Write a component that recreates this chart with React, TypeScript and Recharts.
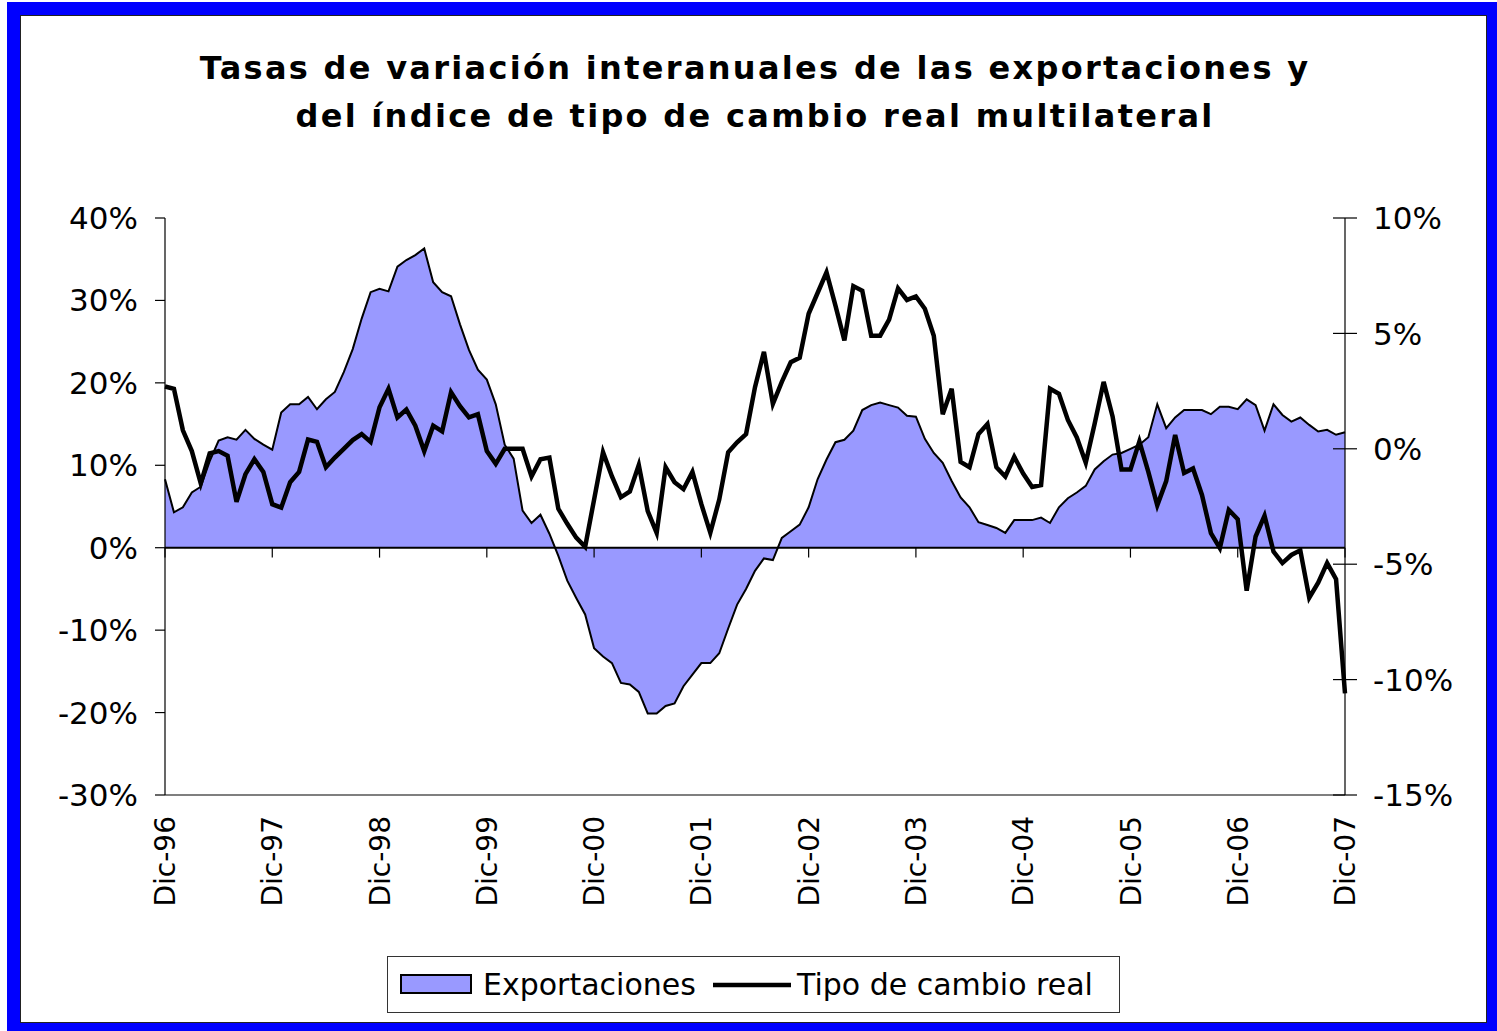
import React from "react";
import {
  Area,
  ComposedChart,
  Legend,
  Line,
  ReferenceLine,
  XAxis,
  YAxis,
} from "recharts";

const MESES = ["Dic", "Ene", "Feb", "Mar", "Abr", "May", "Jun", "Jul", "Ago", "Sep", "Oct", "Nov"];
const ANIOS = ["96", "97", "98", "99", "00", "01", "02", "03", "04", "05", "06", "07"];

const TICKS_X = [
  "Dic-96", "Dic-97", "Dic-98", "Dic-99", "Dic-00", "Dic-01",
  "Dic-02", "Dic-03", "Dic-04", "Dic-05", "Dic-06", "Dic-07",
];
const TICKS_IZQ = [-30, -20, -10, 0, 10, 20, 30, 40];
const TICKS_DER = [-15, -10, -5, 0, 5, 10];

// Exportaciones, % interanual (eje izquierdo), Dic-96 .. Dic-07
const EXPORTACIONES = [
  8.3, 4.3, 4.9, 6.7, 7.4, 10.5, 13.0, 13.4, 13.1, 14.3, 13.2, 12.5,
  11.9, 16.4, 17.4, 17.4, 18.3, 16.8, 18.0, 18.9, 21.3, 24.1, 27.8, 31.0,
  31.4, 31.1, 34.1, 34.9, 35.5, 36.3, 32.2, 31.0, 30.5, 27.1, 24.0, 21.6,
  20.4, 17.4, 12.5, 10.8, 4.5, 3.0, 4.0, 1.7, -1.0, -4.0, -6.1, -8.1,
  -12.2, -13.2, -14.0, -16.4, -16.6, -17.5, -20.1, -20.1, -19.2, -18.9, -16.8, -15.4,
  -14.0, -14.0, -12.8, -9.8, -6.9, -5.0, -2.8, -1.3, -1.5, 1.2, 2.0, 2.8,
  4.9, 8.3, 10.7, 12.8, 13.1, 14.2, 16.7, 17.3, 17.6, 17.3, 17.0, 16.0,
  15.9, 13.2, 11.5, 10.3, 8.1, 6.1, 4.9, 3.1, 2.75, 2.4, 1.8, 3.35,
  3.35, 3.35, 3.65, 3.0, 4.9, 6.0, 6.7, 7.5, 9.5, 10.5, 11.3, 11.5,
  12.0, 12.5, 13.4, 17.4, 14.5, 15.8, 16.7, 16.7, 16.7, 16.2, 17.1, 17.1,
  16.8, 18.0, 17.3, 14.2, 17.4, 16.1, 15.3, 15.8, 14.9, 14.1, 14.3, 13.7,
  14.0,
];

// Tipo de cambio real multilateral, % interanual (eje derecho)
const TIPO_CAMBIO = [
  2.7, 2.6, 0.8, -0.1, -1.5, -0.2, -0.1, -0.3, -2.3, -1.1, -0.45, -1.0,
  -2.4, -2.55, -1.45, -1.0, 0.4, 0.3, -0.8, -0.38, 0.0, 0.38, 0.64, 0.3,
  1.8, 2.6, 1.36, 1.7, 1.0, -0.1, 1.0, 0.75, 2.45, 1.85, 1.36, 1.5,
  -0.1, -0.65, 0.0, 0.0, 0.0, -1.2, -0.45, -0.38, -2.6, -3.25, -3.85, -4.25,
  -2.2, -0.15, -1.2, -2.1, -1.85, -0.7, -2.7, -3.64, -0.8, -1.45, -1.75, -1.0,
  -2.4, -3.64, -2.2, -0.15, 0.28, 0.64, 2.67, 4.2, 1.95, 2.9, 3.75, 3.95,
  5.85, 6.75, 7.65, 6.2, 4.7, 7.05, 6.85, 4.9, 4.9, 5.6, 6.95, 6.45,
  6.6, 6.07, 4.9, 1.5, 2.6, -0.57, -0.8, 0.64, 1.07, -0.8, -1.2, -0.35,
  -1.07, -1.65, -1.57, 2.6, 2.38, 1.25, 0.49, -0.6, 1.1, 2.9, 1.4, -0.9,
  -0.9, 0.32, -1.0, -2.45, -1.4, 0.6, -1.05, -0.85, -2.0, -3.65, -4.3, -2.65,
  -3.05, -6.15, -3.8, -2.9, -4.45, -4.95, -4.6, -4.4, -6.45, -5.8, -4.95, -5.65,
  -10.6,
];

const data = EXPORTACIONES.map((exp, i) => ({
  mes: `${MESES[i % 12]}-${ANIOS[Math.ceil(i / 12)]}`,
  exportaciones: exp,
  tipoCambio: TIPO_CAMBIO[i],
}));

const FUENTE = "'DejaVu Sans', sans-serif";
const RELLENO = "#9999FF";

function TickX({ x, y, payload }: any) {
  return (
    <text
      transform={`translate(${x},${y}) rotate(-90)`}
      x={-21}
      y={0}
      dy="0.36em"
      textAnchor="end"
      fontFamily={FUENTE}
      fontSize={28}
      fill="#000"
    >
      {payload.value}
    </text>
  );
}

function TickDer({ x, y, payload }: any) {
  return (
    <g>
      <line x1={x - 12} x2={x + 12} y1={y} y2={y} stroke="#000" strokeWidth={1.2} />
      <text
        x={x + 28}
        y={y}
        dy="0.36em"
        textAnchor="start"
        fontFamily={FUENTE}
        fontSize={31}
        fill="#000"
      >
        {`${payload.value}%`}
      </text>
    </g>
  );
}

function Leyenda({ payload }: any) {
  const items = payload ?? [];
  const area = items.find((it: any) => it.type !== "line");
  const linea = items.find((it: any) => it.type === "line");
  const texto = { position: "absolute" as const, top: 10, lineHeight: "36px", whiteSpace: "nowrap" as const };
  return (
    <div
      style={{
        position: "relative",
        width: 733,
        height: 57,
        boxSizing: "border-box",
        border: "1.5px solid #333",
        background: "#fff",
        fontFamily: FUENTE,
        fontSize: 30,
        color: "#000",
      }}
    >
      {area && (
        <>
          <svg style={{ position: "absolute", left: 12, top: 17 }} width={72} height={20}>
            <rect x={1} y={1} width={70} height={18} fill={RELLENO} stroke="#000" strokeWidth={2} />
          </svg>
          <span style={{ ...texto, left: 95 }}>{area.value}</span>
        </>
      )}
      {linea && (
        <>
          <svg style={{ position: "absolute", left: 325, top: 23 }} width={78} height={10}>
            <line x1={0} x2={78} y1={5} y2={5} stroke="#000" strokeWidth={4.5} />
          </svg>
          <span style={{ ...texto, left: 409 }}>{linea.value}</span>
        </>
      )}
    </div>
  );
}

export default function App() {
  return (
    <div style={{ position: "absolute", left: 0, top: 0, width: 1497, height: 1031, background: "#fff", overflow: "hidden" }}>
      <div style={{ position: "absolute", left: 7, top: 2, right: 0, bottom: 0, background: "#0000FF" }} />
      <div
        style={{
          position: "absolute",
          left: 20,
          top: 15,
          width: 1467,
          height: 1008,
          boxSizing: "border-box",
          background: "#fff",
          border: "1.5px solid #222",
        }}
      />
      <div
        style={{
          position: "absolute",
          left: 20,
          top: 44,
          width: 1470,
          textAlign: "center",
          fontFamily: "'DejaVu Sans', sans-serif",
          fontWeight: "bold",
          fontSize: 32,
          letterSpacing: "2.3px",
          lineHeight: "48px",
          color: "#000",
        }}
      >
        Tasas de variación interanuales de las exportaciones y
        <br />
        del índice de tipo de cambio real multilateral
      </div>
      <div style={{ position: "absolute", left: 0, top: 0 }}>
        <ComposedChart
          width={1497}
          height={1031}
          data={data}
          margin={{ top: 218, right: 0, left: 0, bottom: 0 }}
        >
          <XAxis
            dataKey="mes"
            scale="point"
            ticks={TICKS_X}
            interval={0}
            height={179}
            tickLine={false}
            tickSize={0}
            tickMargin={0}
            axisLine={{ stroke: "#000", strokeWidth: 1.2 }}
            tick={<TickX />}
          />
          <YAxis
            yAxisId="izq"
            orientation="left"
            width={165}
            domain={[-30, 40]}
            ticks={TICKS_IZQ}
            interval={0}
            tickFormatter={(v: number) => `${v}%`}
            tickSize={10}
            tickMargin={17}
            axisLine={{ stroke: "#000", strokeWidth: 1.2 }}
            tickLine={{ stroke: "#000", strokeWidth: 1.2 }}
            tick={{ fill: "#000", fontSize: 31, fontFamily: FUENTE }}
          />
          <YAxis
            yAxisId="der"
            orientation="right"
            width={152}
            domain={[-15, 10]}
            ticks={TICKS_DER}
            interval={0}
            tickSize={0}
            tickMargin={0}
            tickLine={false}
            axisLine={{ stroke: "#000", strokeWidth: 1.2 }}
            tick={<TickDer />}
          />
          <Area
            yAxisId="izq"
            type="linear"
            dataKey="exportaciones"
            name="Exportaciones"
            fill={RELLENO}
            fillOpacity={1}
            stroke="#000"
            strokeWidth={2}
            baseValue={0}
            isAnimationActive={false}
            legendType="rect"
          />
          <ReferenceLine yAxisId="izq" y={0} stroke="#000" strokeWidth={2} />
          {TICKS_X.map((t) => (
            <ReferenceLine
              key={t}
              yAxisId="izq"
              segment={[
                { x: t, y: 0 },
                { x: t, y: -1.2 },
              ]}
              stroke="#000"
              strokeWidth={1.2}
            />
          ))}
          <Line
            yAxisId="der"
            type="linear"
            dataKey="tipoCambio"
            name="Tipo de cambio real"
            stroke="#000"
            strokeWidth={4.5}
            strokeLinejoin="miter"
            dot={false}
            activeDot={false}
            isAnimationActive={false}
            legendType="line"
          />
          <Legend
            content={<Leyenda />}
            wrapperStyle={{ position: "absolute", left: 387, top: 956, width: 733, height: 57 }}
          />
        </ComposedChart>
      </div>
    </div>
  );
}
